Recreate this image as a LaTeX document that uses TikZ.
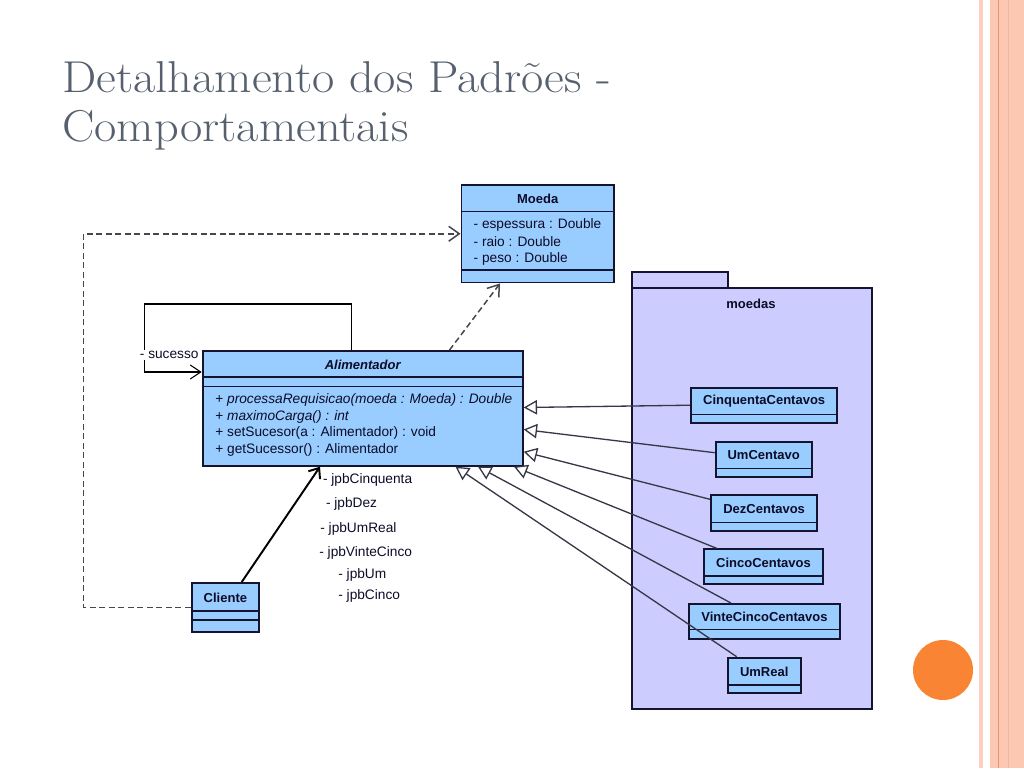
\documentclass[tikz,border=0pt]{standalone}
\usepackage{fontspec}
\setsansfont{Liberation Sans}
\usetikzlibrary{arrows.meta,fit,positioning}

\definecolor{umlfill}{RGB}{153,204,255}
\definecolor{pkgfill}{RGB}{204,204,255}
\definecolor{umlline}{RGB}{20,20,48}
\definecolor{umltext}{RGB}{12,12,40}
\definecolor{inhline}{RGB}{55,55,70}
\definecolor{depgray}{RGB}{70,70,80}
\definecolor{titlegray}{RGB}{86,96,110}
\definecolor{peach}{RGB}{252,200,178}
\definecolor{stripe}{RGB}{251,208,194}
\definecolor{peachline}{RGB}{226,150,118}
\definecolor{dotorange}{RGB}{249,133,52}

\tikzset{
  umlbox/.style={draw=umlline, fill=umlfill, line width=1.1pt, inner sep=0pt},
  pkgbox/.style={draw=umlline, fill=pkgfill, line width=1.1pt, inner sep=0pt},
  divider/.style={draw=umlline, line width=0.9pt},
  cname/.style={font=\sffamily\bfseries\fontsize{7.4}{9}\selectfont, text=umltext, inner sep=0pt},
  member/.style={font=\sffamily\fontsize{7.8}{9}\selectfont, text=umltext, anchor=west, inner sep=0pt},
  inherit/.style={draw=inhline, line width=0.75pt, -{Triangle[open, fill=white, length=7.6pt, width=8.2pt]}},
  dep/.style={draw=depgray, line width=0.85pt, dash pattern=on 3.4pt off 2pt, -{Straight Barb[length=6pt, width=8.5pt]}},
  assoc/.style={draw=black, line width=0.6pt, -{Straight Barb[length=6pt, width=8pt]}},
  nav/.style={draw=black, line width=1.1pt, -{Straight Barb[length=5pt, width=8pt]}},
  titletext/.style={font=\fontsize{25.4}{28}\selectfont, text=titlegray, anchor=base west, inner sep=0pt, xscale=1.085, transform shape}
}

\begin{document}
\begin{tikzpicture}[x=0.02cm,y=-0.02cm]
% slide background and border
\useasboundingbox (0,0) rectangle (1024,768);
\fill[white] (0,0) rectangle (1024,768);
\fill[stripe] (979,0) rectangle (983,768);
\fill[peach] (990,0) rectangle (1024,768);
\draw[peachline, line width=0.6pt] (998.5,0) -- (998.5,768);
\draw[peachline!35!peach, line width=0.5pt] (1008,0) -- (1008,768);
\fill[dotorange] (943,670) circle (30);

% title
\node[titletext] (title1) at (62,92.3) {Detalhamento dos Padrões -};
\node[titletext] (title2) at (62,141) {Comportamentais};

% package moedas
\node[pkgbox, fit={(631.7,271.7) (728.3,288.3)}] (tab) {};
\node[pkgbox, fit={(631.7,288.3) (871.7,709.3)}] (moedas) {};
\node[cname] (moedaslbl) at (751,304) {moedas};

% Moeda
\node[umlbox, fit={(461.5,185) (614,282.5)}] (moeda) {};
\draw[divider] (moeda.west |- 0,211.5) -- (moeda.east |- 0,211.5);
\draw[divider] (moeda.west |- 0,270) -- (moeda.east |- 0,270);
\node[cname] (moedalbl) at (537.75,198.5) {Moeda};
\node[member] (m1) at (473.3,225) {- espessura : Double};
\node[member] (m2) at (473.3,241.7) {- raio : Double};
\node[member] (m3) at (473.3,259) {- peso : Double};

% Alimentador
\node[umlbox, fit={(202.7,351) (522.7,465.7)}] (alim) {};
\draw[divider] (alim.west |- 0,377) -- (alim.east |- 0,377);
\draw[divider] (alim.west |- 0,386.7) -- (alim.east |- 0,386.7);
\node[cname, font=\sffamily\bfseries\itshape\fontsize{7.4}{9}\selectfont] (alimlbl) at (362.7,365) {Alimentador};
\node[member] (a1) at (215,400) {+ \textit{processaRequisicao(moeda : Moeda) : Double}};
\node[member] (a2) at (215,416.7) {+ \textit{maximoCarga() : int}};
\node[member] (a3) at (215,433) {+ setSucesor(a : Alimentador) : void};
\node[member] (a4) at (215,450) {+ getSucessor() : Alimentador};

% Cliente
\node[umlbox, fit={(191.7,583) (259,631.7)}] (cliente) {};
\draw[divider] (cliente.west |- 0,611) -- (cliente.east |- 0,611);
\draw[divider] (cliente.west |- 0,620) -- (cliente.east |- 0,620);
\node[cname] (clientelbl) at (225.4,598) {Cliente};

% coin classes
\foreach \nm/\txt/\l/\r/\t/\d/\b in {
    cinq/CinquentaCentavos/691/837.3/387.7/414.3/422.7,
    umc/UmCentavo/715.7/811.7/441.7/468.3/476.7,
    dez/DezCentavos/711/817.3/495/522.3/530.7,
    cinco/CincoCentavos/704.3/822.7/549.3/575.7/584,
    vinte/VinteCincoCentavos/689/840/604/629.3/639.3,
    umreal/UmReal/727.7/800.7/657.7/685/693.3} {
  \node[umlbox, fit={(\l,\t) (\r,\b)}] (\nm) {};
  \draw[divider] (\nm.west |- 0,\d) -- (\nm.east |- 0,\d);
  \node[cname] (\nm lbl) at ({(\l+\r)/2},{(\t+\d)/2+0.5}) {\txt};
}

% self association
\draw[assoc] (alim.north -| 351.7,0) |- (144.7,304) |- (alim.west |- 0,372);
\node[member, fill=white, inner sep=0.6pt] (suc) at (138.5,355) {- sucesso};

% dependencies
\draw[dep] (cliente.west) -- ++(-107,0) |- (moeda.west);
\draw[dep] (alim.north -| 449.5,0) -- (moeda.south -| 500,0);

% navigation Cliente -> Alimentador
\draw[nav] (cliente.north -| 241.7,0) -- (alim.south -| 320,0);

% roles
\node[member] (r1) at (322.7,480) {- jpbCinquenta};
\node[member] (r2) at (325.7,504) {- jpbDez};
\node[member] (r3) at (320,529) {- jpbUmReal};
\node[member] (r4) at (319,552.7) {- jpbVinteCinco};
\node[member] (r5) at (338,575) {- jpbUm};
\node[member] (r6) at (338,596) {- jpbCinco};

% generalizations
\draw[inherit] (cinq.west) -- (alim.east |- 0,407.5);
\draw[inherit] (umc.west |- 0,452.7) -- (alim.east |- 0,429.5);
\draw[inherit] (dez.west |- 0,499.3) -- (alim.east |- 0,451.7);
\draw[inherit] (cinco.north -| 716.7,0) -- (alim.south -| 514,0);
\draw[inherit] (vinte.north -| 731,0) -- (alim.south -| 478,0);
\draw[inherit] (umreal.north -| 736.7,0) -- (alim.south -| 455.5,0);
\end{tikzpicture}
\end{document}
